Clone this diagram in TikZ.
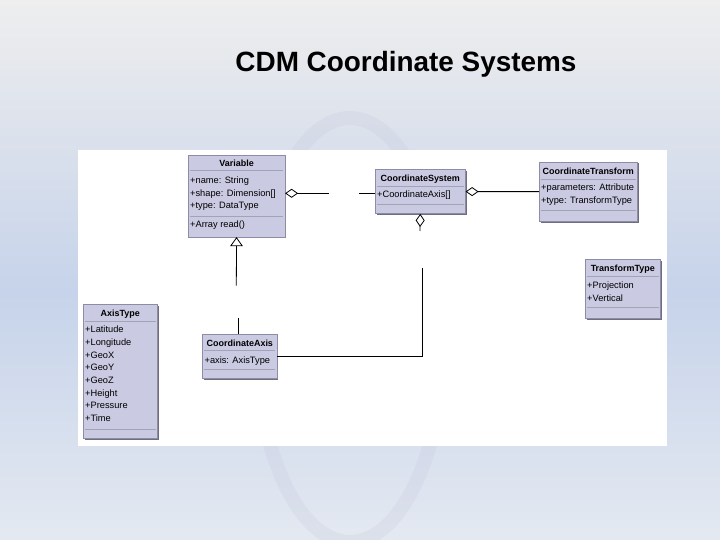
\documentclass[tikz,border=0pt]{standalone}
\usepackage{fontspec}
\setmainfont{Liberation Sans}
\usetikzlibrary{positioning, arrows.meta, shadows}
\definecolor{umlfill}{HTML}{CACAE2}
\definecolor{umlborder}{HTML}{8C8CA6}
\definecolor{umlshadow}{HTML}{6E6E7E}
\definecolor{bgtop}{HTML}{EEEEEE}
\definecolor{bgband}{HTML}{C6D3EA}
\definecolor{bgbottom}{HTML}{E4E9F1}
\definecolor{ringcol}{HTML}{C4C4DA}

\begin{document}
\begin{tikzpicture}[
    x=1bp, y=-1bp,
    umlbox/.style={draw=umlborder, fill=umlfill, line width=0.6bp, anchor=north west, inner sep=0pt,
                   drop shadow={shadow xshift=1.3bp, shadow yshift=-1.3bp, fill=umlshadow, opacity=1}},
    hd/.style={font=\fontsize{9}{11}\selectfont\bfseries, inner sep=0pt},
    attr/.style={font=\fontsize{9.3}{12.7}\selectfont, align=left, anchor=north west, inner sep=0pt},
    compsep/.style={draw=umlborder!80, line width=0.6bp},
    conn/.style={line width=0.8bp},
    aggr/.style={conn, -{Diamond[open, length=13bp, width=9bp]}},
    gen/.style={conn, -{Triangle[open, length=9bp, width=12.6bp]}},
    slidetitle/.style={font=\fontsize{28}{32}\selectfont\bfseries},
]
\useasboundingbox (0,0) rectangle (720,540);

\fill[top color=bgtop, bottom color=bgband] (0,0) rectangle (720,292);
\fill[top color=bgband, bottom color=bgbottom] (0,292) rectangle (720,540);
\draw[ringcol, line width=14bp, opacity=0.22] (350,330) ellipse [x radius=95, y radius=212];
\fill[white] (78,150) rectangle (667,446);

\node[slidetitle, anchor=base] (title) at (406,72) {CDM Coordinate Systems};

\node[umlbox, minimum width=96.5bp, minimum height=81.5bp] (var) at (188,155) {};
\node[hd] (varhd) at ([yshift=-8bp]var.north) {Variable};
\draw[compsep] ([xshift=2bp, yshift=-15.7bp]var.north west) -- ([xshift=-2bp, yshift=-15.7bp]var.north east);
\node[attr] (varat) at ([xshift=2bp, yshift=-21.7bp]var.north west) {+name: String\\+shape: Dimension[]\\+type: DataType};
\draw[compsep] ([xshift=2bp, yshift=-61bp]var.north west) -- ([xshift=-2bp, yshift=-61bp]var.north east);
\node[attr] (varop) at ([xshift=2bp, yshift=-65.7bp]var.north west) {+Array read()};

\node[umlbox, minimum width=90bp, minimum height=44bp] (cs) at (375,169.3) {};
\node[hd] (cshd) at ([yshift=-9.7bp]cs.north) {CoordinateSystem};
\draw[compsep] ([xshift=2bp, yshift=-17.4bp]cs.north west) -- ([xshift=-2bp, yshift=-17.4bp]cs.north east);
\node[attr] (csat) at ([xshift=2bp, yshift=-21.7bp]cs.north west) {+CoordinateAxis[]};
\draw[compsep] ([xshift=2bp, yshift=-35bp]cs.north west) -- ([xshift=-2bp, yshift=-35bp]cs.north east);

\node[umlbox, minimum width=98bp, minimum height=59.3bp] (ct) at (539,161.7) {};
\node[hd] (cthd) at ([yshift=-10bp]ct.north) {CoordinateTransform};
\draw[compsep] ([xshift=2bp, yshift=-17.6bp]ct.north west) -- ([xshift=-2bp, yshift=-17.6bp]ct.north east);
\node[attr] (ctat) at ([xshift=2bp, yshift=-22bp]ct.north west) {+parameters: Attribute\\+type: TransformType};
\draw[compsep] ([xshift=2bp, yshift=-48.3bp]ct.north west) -- ([xshift=-2bp, yshift=-48.3bp]ct.north east);

\node[umlbox, minimum width=75bp, minimum height=59bp] (tt) at (585,259.3) {};
\node[hd] (tthd) at ([yshift=-9.4bp]tt.north) {TransformType};
\draw[compsep] ([xshift=2bp, yshift=-16.7bp]tt.north west) -- ([xshift=-2bp, yshift=-16.7bp]tt.north east);
\node[attr] (ttat) at ([xshift=2bp, yshift=-22.4bp]tt.north west) {+Projection\\+Vertical};
\draw[compsep] ([xshift=2bp, yshift=-47.7bp]tt.north west) -- ([xshift=-2bp, yshift=-47.7bp]tt.north east);

\node[umlbox, minimum width=74bp, minimum height=134bp] (at) at (83,304.3) {};
\node[hd] (athd) at ([yshift=-9.4bp]at.north) {AxisType};
\draw[compsep] ([xshift=2bp, yshift=-16.7bp]at.north west) -- ([xshift=-2bp, yshift=-16.7bp]at.north east);
\node[attr] (atat) at ([xshift=2bp, yshift=-21.7bp]at.north west) {+Latitude\\+Longitude\\+GeoX\\+GeoY\\+GeoZ\\+Height\\+Pressure\\+Time};
\draw[compsep] ([xshift=2bp, yshift=-124.7bp]at.north west) -- ([xshift=-2bp, yshift=-124.7bp]at.north east);

\node[umlbox, minimum width=74.3bp, minimum height=44bp] (ca) at (202.4,334.3) {};
\node[hd] (cahd) at ([yshift=-9bp]ca.north) {CoordinateAxis};
\draw[compsep] ([xshift=2bp, yshift=-16.4bp]ca.north west) -- ([xshift=-2bp, yshift=-16.4bp]ca.north east);
\node[attr] (caat) at ([xshift=2bp, yshift=-22.1bp]ca.north west) {+axis: AxisType};
\draw[compsep] ([xshift=2bp, yshift=-35bp]ca.north west) -- ([xshift=-2bp, yshift=-35bp]ca.north east);

\coordinate (vcsgapA) at (329,193.3);
\coordinate (vcsgapB) at (359,193.3);
\draw[aggr] (vcsgapA) -- (var.east |- vcsgapA);
\draw[conn] (vcsgapB) -- (cs.west |- vcsgapB);

\draw[aggr] (ct.west) -- (cs.east);

\coordinate (csgapA) at (420,231);
\coordinate (csgapB) at (422,268);
\draw[aggr] (csgapA) -- (cs.south);
\draw[conn] (csgapB) |- (ca.east);

\coordinate (vcagapA) at (236.3,285.7);
\coordinate (vcagapB) at (238.8,318.3);
\draw[gen] (vcagapA) -- (var.south);
\draw[conn] (vcagapB) -- (vcagapB |- ca.north);

\end{tikzpicture}
\end{document}
